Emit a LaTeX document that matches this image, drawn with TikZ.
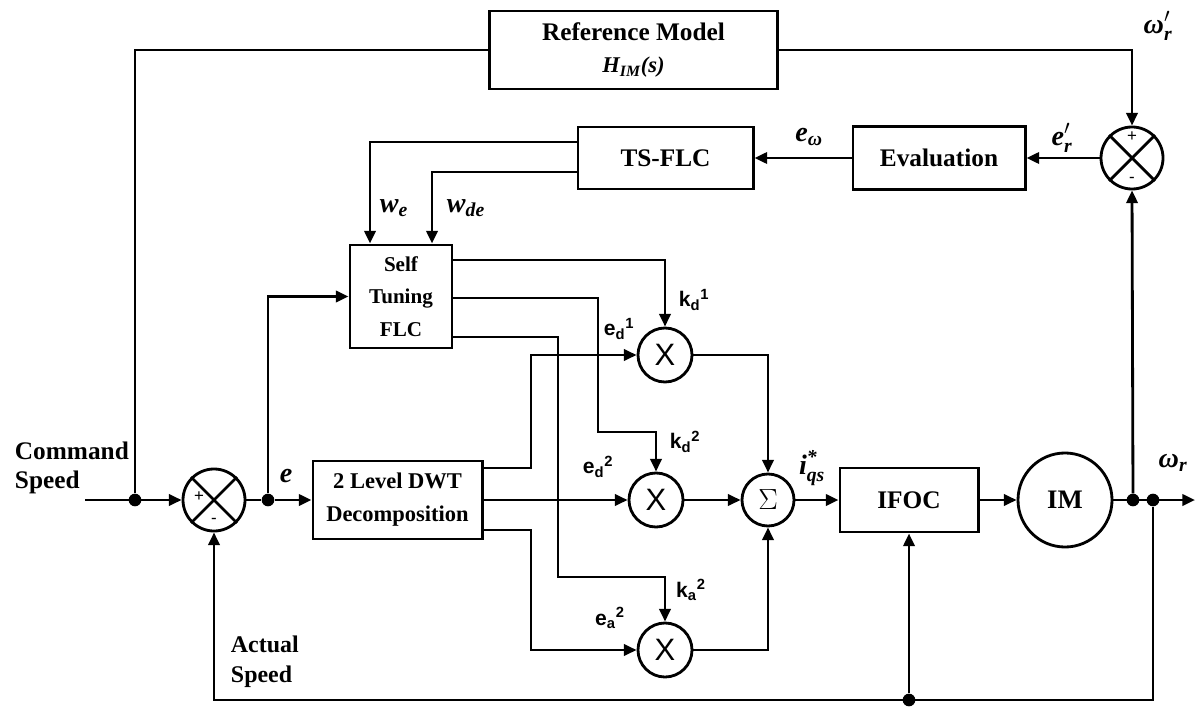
\documentclass[tikz,border=0pt]{standalone}
\usepackage{amsmath}
\usepackage{fontspec}
\setmainfont{Liberation Serif}
\newfontfamily\lsans{Liberation Sans}
\newcommand\bi[1]{\text{\bfseries\itshape #1}}
\usetikzlibrary{arrows.meta}
\tikzset{
  wire/.style={line width=2pt},
  arr/.style={wire,-{Triangle[length=9pt,width=8pt]}},
  blk/.style={draw,line width=2.1pt,font=\bfseries\fontsize{18}{21}\selectfont,align=center,inner sep=0pt},
  jn/.style={circle,draw,line width=2pt,inner sep=0pt},
  dotn/.style={circle,fill,inner sep=0pt,minimum size=9pt},
  lbl/.style={font=\fontsize{20}{22}\selectfont,inner sep=1pt},
  klbl/.style={font=\lsans\bfseries\fontsize{15}{18}\selectfont},
  sgn/.style={font=\lsans\fontsize{12}{12}\selectfont,inner sep=0pt},
  mult/.style={jn,minimum size=1.35cm,font=\lsans\fontsize{22}{22}\selectfont},
}
\begin{document}
\begin{tikzpicture}[x=0.025cm,y=-0.025cm]
\useasboundingbox (0,0) rectangle (1200,708);
% blocks
\node[blk,minimum width=7.175cm,minimum height=1.95cm] (ref) at (633.5,50)
  {Reference Model\\[2pt]{\fontsize{16}{19}\selectfont$\bi{H}_{\bi{IM}}\bi{(s)}$}};
\node[blk,minimum width=4.375cm,minimum height=1.55cm] (ts) at (665.5,158) {TS-FLC};
\node[blk,minimum width=4.3cm,minimum height=1.575cm] (ev) at (939,158) {Evaluation};
\node[jn,minimum size=1.55cm] (st) at (1132,158) {};
\node[blk,minimum width=2.55cm,minimum height=2.575cm,font=\bfseries\fontsize{15}{23}\selectfont] (stf) at (401,296.5) {Self\\Tuning\\FLC};
\node[blk,minimum width=4.225cm,minimum height=1.95cm,font=\bfseries\fontsize{16}{23.5}\selectfont] (dwt) at (397.5,500) {2 Level DWT\\Decomposition};
\node[jn,minimum size=1.55cm] (ms) at (214,500) {};
\node[mult] (m1) at (665,355) {X};
\node[mult] (m2) at (656,500) {X};
\node[mult] (m3) at (665,650) {X};
\node[jn,minimum size=1.3cm,font=\fontsize{20}{20}\selectfont] (sg) at (768,500) {$\Sigma$};
\node[blk,minimum width=3.45cm,minimum height=1.6cm] (ifoc) at (909,500) {IFOC};
\node[jn,minimum size=2.35cm,font=\bfseries\fontsize{19}{20}\selectfont] (im) at (1065,500) {IM};
% dots and coordinates
\node[dotn] (dc) at (135,500) {};
\node[dotn] (de) at (268,500) {};
\node[dotn] (d1) at (1133,500) {};
\node[dotn] (d2) at (1153,500) {};
\node[dotn] (db) at (909,700) {};
\coordinate (cin) at (85,500);
\coordinate (out) at (1195,500);
\coordinate (bl) at (214,700);
% summing junction crosses and signs
\draw[wire] (ms.north east) -- (ms.south west) (ms.north west) -- (ms.south east);
\draw[wire] (st.north east) -- (st.south west) (st.north west) -- (st.south east);
\node[sgn] (msp) at (199,497) {+};
\node[sgn] (msm) at (214,521) {-};
\node[sgn] (stp) at (1132,137) {+};
\node[sgn] (stm) at (1132,180) {-};
% connectors
\draw[arr] (cin) -- (ms.west);
\draw[wire] (dc) |- (ref.west);
\draw[arr] (ref.east) -| (st.north);
\draw[arr] (st.west) -- (ev.east);
\draw[arr] (ev.west) -- (ts.east);
\draw[arr] (ts.west |- 0,142) -| (stf.north -| 370,0);
\draw[arr] (ts.west |- 0,172) -| (stf.north -| 432,0);
\draw[wire] (ms.east) -- (de);
\draw[arr] (de) -- (dwt.west);
\draw[arr] (de) |- (stf.west);
\draw[arr] (stf.east |- 0,260) -| (m1.north);
\draw[arr] (stf.east |- 0,298) -- (598,298) -- (598,432) -| (m2.north);
\draw[arr] (stf.east |- 0,337) -- (558,337) -- (558,577) -| (m3.north);
\draw[arr] (dwt.east |- 0,468) -- (531,468) |- (m1.west);
\draw[arr] (dwt.east) -- (m2.west);
\draw[arr] (dwt.east |- 0,530) -- (531,530) |- (m3.west);
\draw[arr] (m1.east) -| (sg.north);
\draw[arr] (m2.east) -- (sg.west);
\draw[arr] (m3.east) -| (sg.south);
\draw[arr] (sg.east) -- (ifoc.west);
\draw[arr] (ifoc.east) -- (im.west);
\draw[arr] (im.east) -- (out);
\draw[arr] (d1) -- (st.south);
\draw[arr] (d2) |- (bl) -- (ms.south);
\draw[arr] (db) -- (ifoc.south);
% labels
\node[lbl] (lwr) at (1158,26) {$\bi{ω}'_{\bi{r}}$};
\node[lbl] (ler) at (1062,138) {$\bi{e}'_{\bi{r}}$};
\node[lbl] (lew) at (809,137) {$\bi{e}_{\bi{ω}}$};
\node[lbl] (lwe) at (394,208) {$\bi{w}_{\bi{e}}$};
\node[lbl] (lwde) at (466,208) {$\bi{w}_{\bi{de}}$};
\node[lbl] (le) at (286,476) {$\bi{e}$};
\node[lbl] (liqs) at (812,468) {$\bi{i}^{\bi{*}}_{\bi{qs}}$};
\node[lbl] (lwr2) at (1173,463) {$\bi{ω}_{\bi{r}}$};
\node[klbl] (lkd1) at (694,300) {k\textsubscript{d}\textsuperscript{1}};
\node[klbl] (led1) at (619,329) {e\textsubscript{d}\textsuperscript{1}};
\node[klbl] (lkd2) at (685,442) {k\textsubscript{d}\textsuperscript{2}};
\node[klbl] (led2) at (598,467) {e\textsubscript{d}\textsuperscript{2}};
\node[klbl] (lka2) at (691,590) {k\textsubscript{a}\textsuperscript{2}};
\node[klbl] (lea2) at (610,618) {e\textsubscript{a}\textsuperscript{2}};
\node[font=\bfseries\fontsize{18}{21}\selectfont,align=left,anchor=west] (lcmd) at (10,468) {Command\\Speed};
\node[font=\bfseries\fontsize{17}{21}\selectfont,align=left,anchor=west] (lact) at (226,662) {Actual\\Speed};
\end{tikzpicture}
\end{document}
